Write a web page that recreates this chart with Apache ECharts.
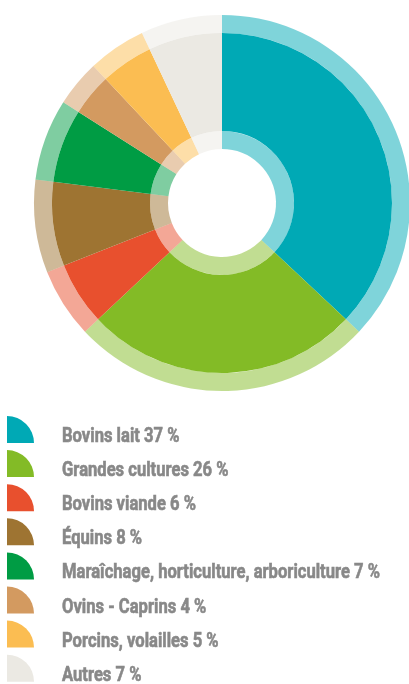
<!DOCTYPE html>
<html>
<head>
<meta charset="utf-8">
<script src="https://cdn.jsdelivr.net/npm/echarts/dist/echarts.min.js"></script>
<style>
    html, body { margin: 0; padding: 0; background: #fff; }
    #chart { width: 409px; height: 684px; }
</style>
</head>
<body>
<div id="chart"></div>
<script>
    // données
    var categories = ['Bovins lait', 'Grandes cultures', 'Bovins viande', 'Équins',
        'Maraîchage, horticulture, arboriculture', 'Ovins - Caprins', 'Porcins, volailles', 'Autres'];
    var shares = [37, 26, 6, 8, 7, 4, 5, 7];
    var colors = ['#00a9b5', '#83bb26', '#e8502e', '#9e7432', '#009c44', '#d39a60', '#fbbd52', '#ebe9e3'];

    function pieData(opacity) {
        var list = [];
        for (var i = 0; i < categories.length; i++) {
            list.push({
                name: categories[i],
                value: shares[i],
                itemStyle: { color: colors[i], opacity: opacity }
            });
        }
        return list;
    }

    function ring(radius, opacity) {
        return {
            type: 'pie',
            center: [222, 203],
            radius: radius,
            startAngle: 90,
            clockwise: true,
            silent: true,
            label: { show: false },
            labelLine: { show: false },
            emphasis: { disabled: true },
            animation: false,
            data: pieData(opacity)
        };
    }

    // légende : quart de cercle + texte condensé
    function legendItems() {
        var items = [];
        for (var i = 0; i < categories.length; i++) {
            items.push({
                type: 'group',
                x: 7,
                y: 416 + i * 34.1,
                silent: true,
                children: [{
                    type: 'sector',
                    shape: { cx: 0, cy: 27, r: 27, startAngle: -Math.PI / 2, endAngle: 0 },
                    style: { fill: colors[i] }
                }, {
                    type: 'text',
                    x: 55,
                    y: 21,
                    scaleX: 0.83,
                    style: {
                        text: categories[i] + ' ' + shares[i] + ' %',
                        fill: '#888888',
                        stroke: '#888888',
                        lineWidth: 0.6,
                        font: 'bold 20px Roboto, sans-serif',
                        verticalAlign: 'middle'
                    }
                }]
            });
        }
        return items;
    }

    function drawChart() {
        var option = {
            backgroundColor: '#fff',
            graphic: legendItems(),
            series: [
                ring([72, 170], 1),    // anneau principal
                ring([170, 188], 0.5), // bord extérieur clair
                ring([54, 72], 0.5)    // bord intérieur clair
            ]
        };
        var myChart = echarts.init(document.getElementById('chart'));
        myChart.setOption(option);
    }

    drawChart();
</script>
</body>
</html>
